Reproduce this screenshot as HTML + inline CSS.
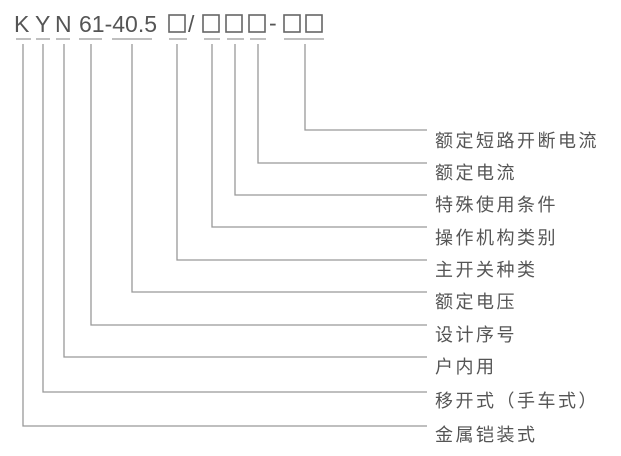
<!DOCTYPE html>
<html><head><meta charset="utf-8"><style>
html,body{margin:0;padding:0;background:#fff;}
svg{display:block}
</style></head><body>
<svg width="621" height="456" viewBox="0 0 621 456" xmlns="http://www.w3.org/2000/svg">
<g font-family="Liberation Sans, sans-serif" font-size="23" fill="#555">
<text x="14" y="32">K</text>
<text x="35" y="32">Y</text>
<text x="55" y="32">N</text>
<text x="79" y="32">61-40.5</text>
<text x="188" y="32">/</text>
<text x="269" y="31">-</text>
</g>
<g fill="none" stroke="#666" stroke-width="1.6">
<rect x="169" y="15" width="16" height="17"/>
<rect x="203" y="15" width="16" height="17"/>
<rect x="226" y="15" width="16" height="17"/>
<rect x="249" y="15" width="16" height="17"/>
<rect x="284" y="15" width="16" height="17"/>
<rect x="306" y="15" width="16" height="17"/>
</g>
<g stroke="#aaa" stroke-width="1.5">
<line x1="16" y1="39" x2="31" y2="39"/>
<line x1="36" y1="39" x2="50" y2="39"/>
<line x1="56" y1="39" x2="70" y2="39"/>
<line x1="79" y1="39" x2="102" y2="39"/>
<line x1="112" y1="39" x2="152" y2="39"/>
<line x1="169" y1="39" x2="187" y2="39"/>
<line x1="204" y1="39" x2="220" y2="39"/>
<line x1="227" y1="39" x2="244" y2="39"/>
<line x1="250" y1="39" x2="266" y2="39"/>
<line x1="284" y1="39" x2="324" y2="39"/>
</g>
<g fill="none" stroke="#999" stroke-width="1.3">
<polyline points="23,44 23,426 427,426"/>
<polyline points="43,44 43,392 427,392"/>
<polyline points="64,44 64,357 427,357"/>
<polyline points="91,44 91,325 427,325"/>
<polyline points="132,44 132,292 427,292"/>
<polyline points="177,44 177,260 427,260"/>
<polyline points="212,44 212,227 427,227"/>
<polyline points="235,44 235,195 427,195"/>
<polyline points="258,44 258,163 427,163"/>
<polyline points="305,44 305,130 427,130"/>
</g>
<g font-family="Liberation Sans, Noto Sans CJK SC, sans-serif" font-size="18" fill="#555" letter-spacing="2.5">
<text x="435" y="147">额定短路开断电流</text>
<text x="435" y="179">额定电流</text>
<text x="435" y="211">特殊使用条件</text>
<text x="435" y="244">操作机构类别</text>
<text x="435" y="276">主开关种类</text>
<text x="435" y="308">额定电压</text>
<text x="435" y="341">设计序号</text>
<text x="435" y="373">户内用</text>
<text x="435" y="407">移开式（手车式）</text>
<text x="435" y="441">金属铠装式</text>
</g>
</svg>
</body></html>
